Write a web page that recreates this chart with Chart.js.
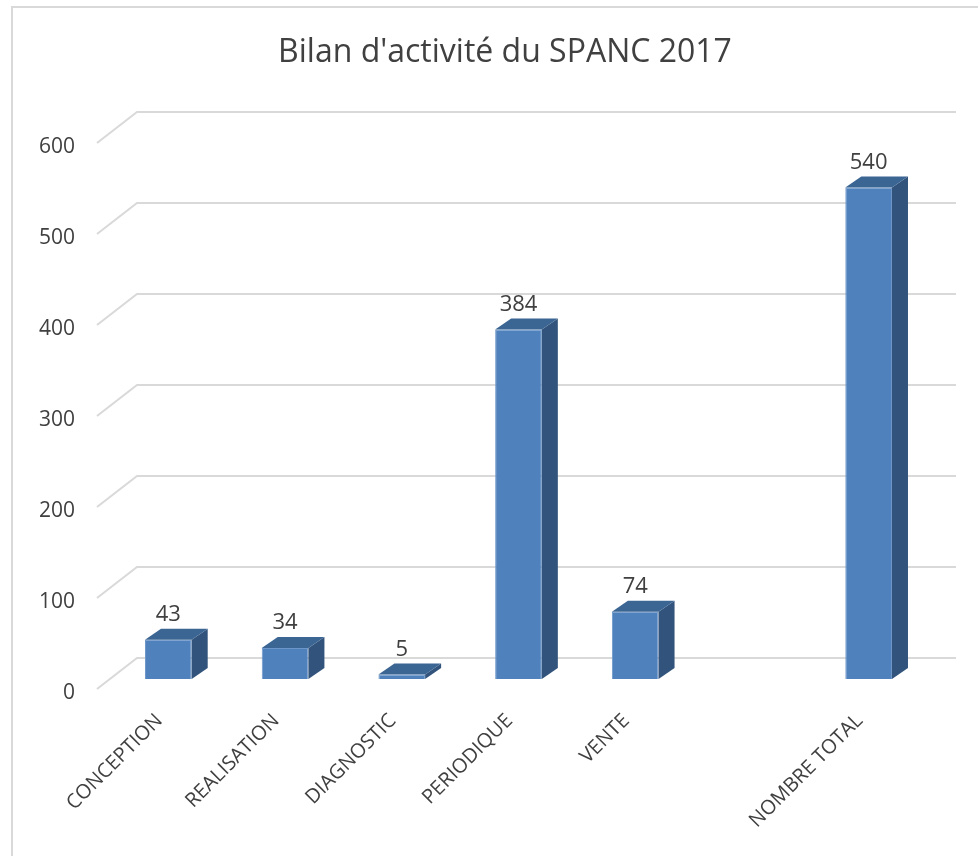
<!DOCTYPE html>
<html lang="fr">
<head>
    <meta charset="UTF-8">
    <title>Bilan d'activité du SPANC 2017</title>
    <script src="https://cdn.jsdelivr.net/npm/chart.js@4.4.0/dist/chart.umd.min.js"></script>
    <style>
        body {
            margin: 0;
            background: #ffffff;
        }
        .chart-wrap {
            position: relative;
            width: 978px;
            height: 856px;
        }
        .chart-title {
            position: absolute;
            left: 205px;
            top: 31px;
            width: 600px;
            line-height: 38px;
            text-align: center;
            font-family: 'Open Sans', sans-serif;
            font-size: 32px;
            color: #404040;
            z-index: 2;
        }
    </style>
</head>
<body>
    <div class="chart-wrap">
        <div class="chart-title">Bilan d'activité du SPANC 2017</div>
        <canvas id="spancChart"></canvas>
    </div>

    <script>
        // categories (one empty slot before the total, as in the original)
        const categories = ['CONCEPTION', 'REALISATION', 'DIAGNOSTIC', 'PERIODIQUE', 'VENTE', '', 'NOMBRE TOTAL'];
        const counts = [43, 34, 5, 384, 74, null, 540];
        const yTicks = [0, 100, 200, 300, 400, 500, 600];

        const FONT = "'Open Sans', sans-serif";
        const TEXT = '#404040';
        const GRID = '#d9d9d9';

        // depth of the back wall and of the bars (pseudo 3D)
        const wall = { x0: -13, y0: 10, x1: 27, y1: -21, xr: 29 };
        const depth = { x: 16, y: -11 };

        const frame3d = {
            id: 'frame3d',
            beforeDraw(chart) {
                const ctx = chart.ctx;
                ctx.save();
                ctx.fillStyle = '#ffffff';
                ctx.fillRect(0, 0, chart.width, chart.height);
                // outer frame (left and top edges only visible)
                ctx.strokeStyle = GRID;
                ctx.lineWidth = 2;
                ctx.beginPath();
                ctx.moveTo(12, chart.height);
                ctx.lineTo(12, 7);
                ctx.lineTo(chart.width, 7);
                ctx.stroke();
                ctx.restore();
            },
            beforeDatasetsDraw(chart) {
                const ctx = chart.ctx;
                const area = chart.chartArea;
                const y = chart.scales.y;
                ctx.save();
                ctx.strokeStyle = GRID;
                ctx.lineWidth = 2;
                yTicks.forEach(v => {
                    const py = y.getPixelForValue(v);
                    ctx.beginPath();
                    ctx.moveTo(area.left + wall.x0, py + wall.y0);
                    ctx.lineTo(area.left + wall.x1, py + wall.y1);
                    ctx.lineTo(area.right + wall.xr, py + wall.y1);
                    ctx.stroke();
                });
                ctx.restore();
            },
            afterDatasetsDraw(chart) {
                const ctx = chart.ctx;
                const meta = chart.getDatasetMeta(0);
                ctx.save();
                meta.data.forEach((bar, i) => {
                    if (counts[i] === null) return;
                    const half = bar.width / 2;
                    const l = bar.x - half, r = bar.x + half;
                    const t = bar.y, b = bar.base;
                    // side face
                    ctx.fillStyle = '#32547c';
                    ctx.beginPath();
                    ctx.moveTo(r, t);
                    ctx.lineTo(r + depth.x, t + depth.y);
                    ctx.lineTo(r + depth.x, b + depth.y);
                    ctx.lineTo(r, b);
                    ctx.closePath();
                    ctx.fill();
                    // top face
                    ctx.fillStyle = '#3b6593';
                    ctx.beginPath();
                    ctx.moveTo(l, t);
                    ctx.lineTo(l + depth.x, t + depth.y);
                    ctx.lineTo(r + depth.x, t + depth.y);
                    ctx.lineTo(r, t);
                    ctx.closePath();
                    ctx.fill();
                    // value label
                    ctx.fillStyle = TEXT;
                    ctx.font = '22px ' + FONT;
                    ctx.textAlign = 'center';
                    ctx.textBaseline = 'bottom';
                    ctx.fillText(counts[i], bar.x, t - 14);
                });
                ctx.restore();
            }
        };

        new Chart(document.getElementById('spancChart'), {
            type: 'bar',
            data: {
                labels: categories,
                datasets: [{
                    label: 'Bilan',
                    data: counts,
                    backgroundColor: '#4f81bd',
                    borderColor: '#6d97c9',
                    borderWidth: 1,
                    barPercentage: 0.4,
                    categoryPercentage: 1.0
                }]
            },
            options: {
                responsive: true,
                maintainAspectRatio: false,
                animation: false,
                layout: {
                    padding: { left: 30, right: 51, top: 133, bottom: 0 }
                },
                plugins: {
                    legend: { display: false },
                    tooltip: { enabled: false },
                    title: { display: false }
                },
                scales: {
                    x: {
                        grid: { display: false },
                        border: { display: false },
                        ticks: {
                            color: TEXT,
                            font: { family: FONT, size: 20 },
                            maxRotation: 45,
                            minRotation: 45,
                            padding: 22,
                            labelOffset: -9,
                            autoSkip: false
                        },
                        afterFit(scale) { scale.height = 177; }
                    },
                    y: {
                        min: 0,
                        max: 600,
                        grid: { display: false },
                        border: { display: false },
                        ticks: {
                            stepSize: 100,
                            color: TEXT,
                            font: { family: FONT, size: 21 },
                            padding: 27,
                            labelOffset: 14
                        },
                        afterFit(scale) { scale.width = 80; }
                    }
                }
            },
            plugins: [frame3d]
        });
    </script>
</body>
</html>
